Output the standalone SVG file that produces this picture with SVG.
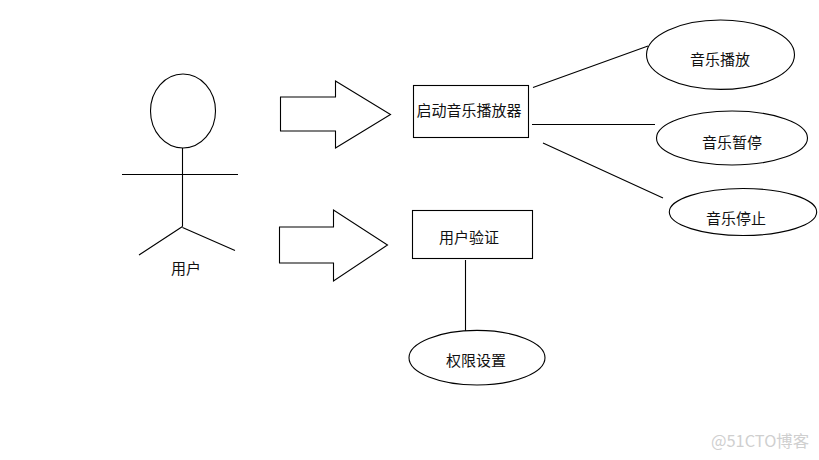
<svg xmlns="http://www.w3.org/2000/svg" width="819" height="460" viewBox="0 0 819 460">
<style>
.s{fill:#fff;stroke:#000;stroke-width:1.1}
.c{fill:none;stroke:#000;stroke-width:1.1}
text{font-family:"Noto Sans CJK SC","Liberation Sans",sans-serif;font-size:15px;fill:#111}
</style>
<rect width="819" height="460" fill="#fff"/>
<g id="actor">
<ellipse class="s" cx="183" cy="111" rx="32.500" ry="37"/>
<path class="c" d="M182.500 148V226.500M122 174.500H238M182.500 226.500L139 255M182.500 227.500L235 250.500"/>
<text x="171" y="273.500">用户</text>
</g>
<g id="arrow1"><polygon class="s" points="280.500,97 335.500,97 335.500,81 390.500,114.500 335.500,148 335.500,131 280.500,131"/></g>
<g id="arrow2"><polygon class="s" points="279.500,227 333.500,227 333.500,210 387.500,245 333.500,281 333.500,263 279.500,263"/></g>
<g id="connectors">
<path class="c" d="M533 87.500L648 46M532 124.500H655M543 143L663 198M465.500 260V331"/>
</g>
<g id="start"><rect class="s" x="413.500" y="85.500" width="115" height="52"/><text x="416.500" y="115.500">启动音乐播放器</text></g>
<g id="play"><ellipse class="s" cx="720.500" cy="54.700" rx="74" ry="34.700"/><text x="690" y="64.500">音乐播放</text></g>
<g id="pause"><ellipse class="s" cx="732" cy="138" rx="75.500" ry="27"/><text x="702" y="148">音乐暂停</text></g>
<g id="stop"><ellipse class="s" cx="743" cy="212" rx="73.700" ry="23.500"/><text x="706" y="224">音乐停止</text></g>
<g id="verify"><rect class="s" x="412.500" y="210.500" width="120" height="48"/><text x="439" y="242.500">用户验证</text></g>
<g id="perm"><ellipse class="s" cx="477" cy="357.700" rx="68" ry="27.300"/><text x="446" y="365.500">权限设置</text></g>
<text x="711" y="447" style="font-size:16.400px;fill:#cfcfcf">@51CTO博客</text>
</svg>
